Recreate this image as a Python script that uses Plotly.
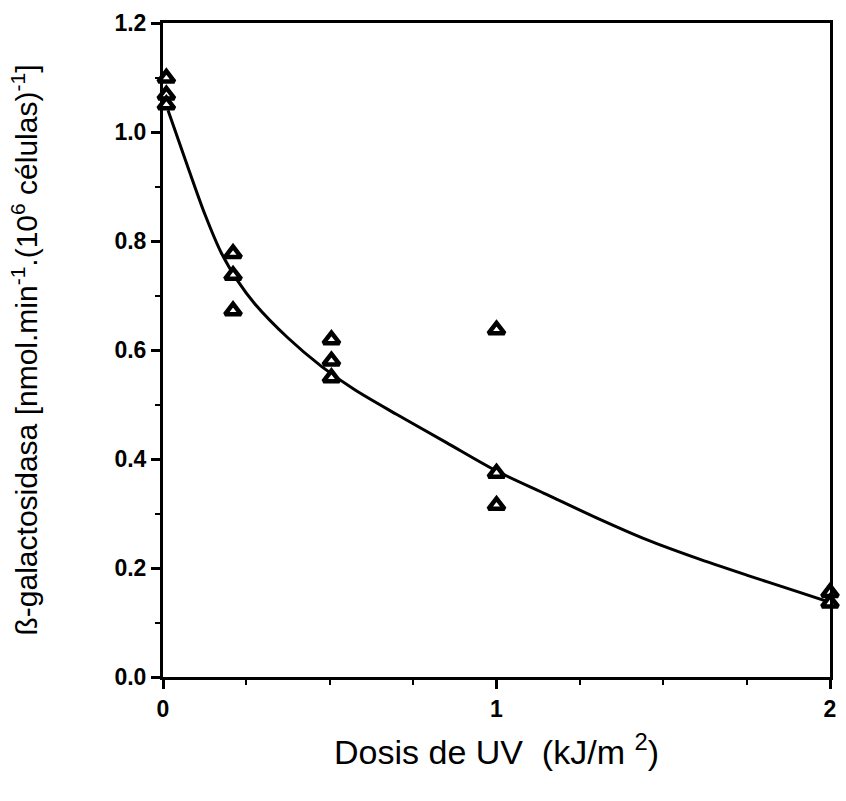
import plotly.graph_objects as go

# measured points (dose kJ/m2, beta-galactosidase activity)
dose_pts = [0.01, 0.01, 0.01, 0.21, 0.21, 0.21, 0.505, 0.505, 0.505, 1.0, 1.0, 1.0, 2.0, 2.0]
activity_pts = [1.099, 1.068, 1.05, 0.777, 0.737, 0.672, 0.619, 0.58, 0.549, 0.637, 0.374, 0.315, 0.155, 0.136]

# fitted curve
curve_x = [0.015, 0.075, 0.125, 0.175, 0.225, 0.275, 0.375, 0.475, 0.575, 0.7, 0.85,
           1.0, 1.15, 1.3, 1.45, 1.6, 1.75, 1.9, 2.0]
curve_y = [1.04, 0.935, 0.85, 0.778, 0.726, 0.685, 0.622, 0.57, 0.527, 0.482, 0.43,
           0.378, 0.335, 0.292, 0.252, 0.218, 0.187, 0.157, 0.137]

x_ticks = [0, 1, 2]
y_ticks = [0.0, 0.2, 0.4, 0.6, 0.8, 1.0, 1.2]
y_tick_labels = ["0.0", "0.2", "0.4", "0.6", "0.8", "1.0", "1.2"]

FONT = "Liberation Sans, Arial, Helvetica, sans-serif"

fig = go.Figure()
fig.add_trace(go.Scatter(
    x=curve_x, y=curve_y, mode="lines",
    line=dict(color="black", width=3, shape="spline", smoothing=0.8),
    showlegend=False, hoverinfo="skip", cliponaxis=False))
fig.add_trace(go.Scatter(
    x=dose_pts, y=activity_pts, mode="markers",
    marker=dict(symbol="triangle-up", size=14, color="white", line=dict(color="black", width=4.5)),
    showlegend=False, cliponaxis=False))

fig.update_layout(
    width=846, height=801,
    margin=dict(l=163, r=10, t=23, b=124),
    paper_bgcolor="white", plot_bgcolor="white",
    font=dict(family=FONT, color="black"),
    xaxis=dict(
        range=[0, 2], tickvals=x_ticks, ticktext=[str(v) for v in x_ticks],
        showgrid=False, zeroline=False, showline=True, linecolor="black", linewidth=3,
        mirror=True, ticks="outside", ticklen=9, tickwidth=2.5, tickcolor="black",
        tickfont=dict(size=23, family=FONT, weight="bold"),
        minor=dict(dtick=0.25, ticks="outside", ticklen=5, tickwidth=2, tickcolor="black", showgrid=False),
        title=dict(text="Dosis de UV  (kJ/m <sup>2</sup>)", font=dict(size=34, family=FONT), standoff=20),
    ),
    yaxis=dict(
        range=[0, 1.2], tickvals=y_ticks, ticktext=y_tick_labels,
        showgrid=False, zeroline=False, showline=True, linecolor="black", linewidth=3,
        mirror=True, ticks="outside", ticklen=9, tickwidth=2.5, tickcolor="black",
        tickfont=dict(size=23, family=FONT, weight="bold"),
        minor=dict(dtick=0.1, ticks="outside", ticklen=5, tickwidth=2, tickcolor="black", showgrid=False),
        title=dict(text="ß-galactosidasa [nmol.min<sup>-1</sup>.(10<sup>6</sup> células)<sup>-1</sup>]",
                   font=dict(size=30, family=FONT), standoff=68),
    ),
)

fig.write_html("out.html")
